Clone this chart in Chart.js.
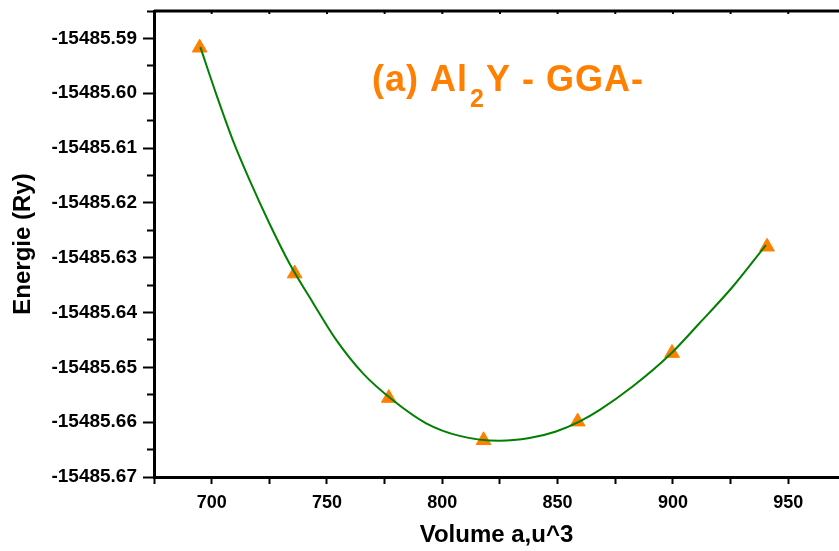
<!DOCTYPE html>
<html>
<head>
<meta charset="utf-8">
<script src="https://cdn.jsdelivr.net/npm/chart.js@4"></script>
<style>
  html, body { margin: 0; padding: 0; background: #fff; }
  #wrap { width: 839px; height: 551px; position: relative; }
</style>
</head>
<body>
<div id="wrap"><canvas id="chart"></canvas></div>
<script>
// measured points (triangles)
const volumes = [694.8, 736.0, 776.8, 817.9, 858.7, 899.6, 940.8];
const energies = [-15485.5917, -15485.6329, -15485.6556, -15485.6633, -15485.6599, -15485.6474, -15485.6280];

// fitted curve
const fitVolumes = [695.1, 702.0, 709.2, 716.5, 725.1, 733.8, 743.9, 754.0, 765.6, 778.6, 793.0,
  807.5, 824.8, 837.8, 849.3, 859.4, 868.1, 882.5, 898.4, 911.4, 925.9, 940.3];
const fitEnergies = [-15485.5916, -15485.6002, -15485.6086, -15485.6159, -15485.6238, -15485.6311,
  -15485.6382, -15485.6450, -15485.6511, -15485.6560, -15485.6602, -15485.6625, -15485.6634,
  -15485.6629, -15485.6617, -15485.6599, -15485.6578, -15485.6535, -15485.6478, -15485.6420,
  -15485.6353, -15485.6277];

const xMin = 675, xMax = 972;
const yMin = -15485.67, yMax = -15485.585;

const FONT = "Arial, 'Liberation Sans', sans-serif";
const ORANGE = "#ff8000";
const GREEN = "#008000";

const frame = {
  id: "frame",
  afterDraw(chart) {
    const { ctx, chartArea, scales } = chart;
    ctx.save();
    // top border with small inward ticks
    ctx.strokeStyle = "#000";
    ctx.lineWidth = 3;
    ctx.beginPath();
    ctx.moveTo(chartArea.left, chartArea.top);
    ctx.lineTo(chartArea.right, chartArea.top);
    ctx.stroke();
    ctx.lineWidth = 2;
    scales.x.ticks.forEach(t => {
      const px = scales.x.getPixelForValue(t.value);
      ctx.beginPath();
      ctx.moveTo(px, chartArea.top);
      ctx.lineTo(px, chartArea.top + 3);
      ctx.stroke();
    });

    // label "(a) Al2Y - GGA-"
    ctx.fillStyle = ORANGE;
    ctx.textBaseline = "alphabetic";
    ctx.textAlign = "left";
    ctx.letterSpacing = "1px";
    let x = 372, y = 91;
    ctx.font = "bold 36px " + FONT;
    ctx.fillText("(a) Al", x, y);
    x += ctx.measureText("(a) Al").width + 2;
    ctx.font = "bold 25px " + FONT;
    ctx.fillText("2", x, y + 16);
    x += ctx.measureText("2").width + 1;
    ctx.font = "bold 36px " + FONT;
    ctx.fillText("Y - GGA-", x, y);
    ctx.restore();
  }
};

new Chart(document.getElementById("chart"), {
  type: "scatter",
  data: {
    datasets: [
      {
        label: "fit",
        data: fitVolumes.map((v, i) => ({ x: v, y: fitEnergies[i] })),
        showLine: true,
        borderColor: GREEN,
        borderWidth: 2,
        pointRadius: 0,
        cubicInterpolationMode: "monotone",
        order: 0
      },
      {
        label: "points",
        data: volumes.map((v, i) => ({ x: v, y: energies[i] })),
        pointStyle: "triangle",
        pointRadius: 8.5,
        pointBackgroundColor: ORANGE,
        pointBorderColor: ORANGE,
        pointBorderWidth: 1,
        order: 1
      }
    ]
  },
  options: {
    responsive: true,
    maintainAspectRatio: false,
    animation: false,
    layout: { autoPadding: false, padding: { top: 11, right: 0, bottom: 0, left: 0 } },
    plugins: { legend: { display: false }, tooltip: { enabled: false } },
    scales: {
      x: {
        type: "linear",
        min: xMin,
        max: xMax,
        afterFit: s => { s.height = 74; s.paddingLeft = 0; s.paddingRight = 0; },
        border: { color: "#000", width: 3 },
        grid: { drawOnChartArea: false, tickLength: 7, tickWidth: 2, tickColor: "#000" },
        ticks: {
          stepSize: 25,
          includeBounds: false,
          autoSkip: false,
          maxRotation: 0,
          padding: 8,
          color: "#000",
          font: { family: FONT, size: 18, weight: "bold" },
          callback: v => (v % 50 === 0 ? v : "")
        },
        title: {
          display: true,
          text: "Volume a,u^3",
          color: "#000",
          font: { family: FONT, size: 24, weight: "bold" },
          padding: { top: 0, bottom: 1 }
        }
      },
      y: {
        type: "linear",
        min: yMin,
        max: yMax,
        afterFit: s => { s.width = 154; s.paddingTop = 0; s.paddingBottom = 0; },
        border: { color: "#000", width: 3 },
        grid: {
          drawOnChartArea: false,
          tickLength: 11,
          tickWidth: 2,
          tickColor: "#000",
          tickBorderDash: c => (c.tick && Math.abs(Math.round(c.tick.value * 1000) % 10) === 0 ? [] : [0, 4, 40])
        },
        ticks: {
          stepSize: 0.005,
          autoSkip: false,
          padding: 6,
          color: "#000",
          font: { family: FONT, size: 19, weight: "bold" },
          callback: v => (Math.abs(Math.round(v * 1000) % 10) === 0 ? v.toFixed(2) : "")
        },
        title: {
          display: true,
          text: "Energie (Ry)",
          color: "#000",
          font: { family: FONT, size: 24, weight: "bold" },
          padding: { top: 9, bottom: 0 }
        }
      }
    }
  },
  plugins: [frame]
});
</script>
</body>
</html>
